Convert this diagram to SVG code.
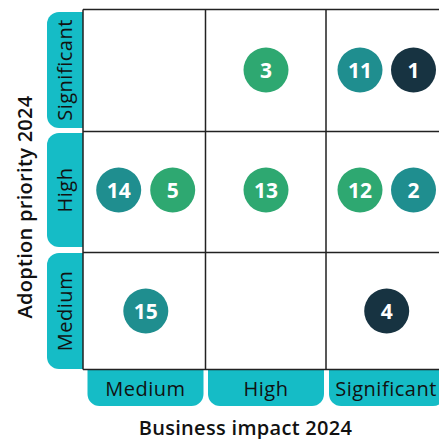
<svg xmlns="http://www.w3.org/2000/svg" width="439" height="439" viewBox="0 0 439 439">
<style>
.tab{fill:#15bcc6}
.tl{font-family:"Open Sans","Noto Sans",sans-serif;font-size:20px;letter-spacing:0.5px;fill:#111;text-anchor:middle}
.ax{font-family:"Open Sans","Noto Sans",sans-serif;font-size:20px;letter-spacing:0.3px;font-weight:600;fill:#111;text-anchor:middle}
.grid{stroke:#222;stroke-width:1.5;fill:none}
.n{font-family:"Open Sans","Noto Sans",sans-serif;font-size:21px;font-weight:700;fill:#fff;text-anchor:middle}
.teal{fill:#1f8e8f}.green{fill:#2ea871}.navy{fill:#173341}
</style>
<rect width="439" height="439" fill="#fff"/>
<g id="row-tabs">
<g id="tab-significant-y"><path class="tab" d="M83,12 V128 H59 A12,12 0 0 1 47,116 V24 A12,12 0 0 1 59,12 Z"/><text class="tl" transform="translate(72,70) rotate(-90)">Significant</text></g>
<g id="tab-high-y"><path class="tab" d="M83,133 V247 H59 A12,12 0 0 1 47,235 V145 A12,12 0 0 1 59,133 Z"/><text class="tl" transform="translate(72,190) rotate(-90)">High</text></g>
<g id="tab-medium-y"><path class="tab" d="M83,253 V369 H59 A12,12 0 0 1 47,357 V265 A12,12 0 0 1 59,253 Z"/><text class="tl" transform="translate(72,311) rotate(-90)">Medium</text></g>
</g>
<g id="col-tabs">
<g id="tab-medium-x"><path class="tab" d="M87.5,370 H203.5 V394 A12,12 0 0 1 191.5,406 H99.5 A12,12 0 0 1 87.5,394 Z"/><text class="tl" x="145.5" y="395.5">Medium</text></g>
<g id="tab-high-x"><path class="tab" d="M208,370 H324 V394 A12,12 0 0 1 312,406 H220 A12,12 0 0 1 208,394 Z"/><text class="tl" x="266" y="395.5">High</text></g>
<g id="tab-significant-x"><path class="tab" d="M329,370 H445 V394 A12,12 0 0 1 433,406 H341 A12,12 0 0 1 329,394 Z"/><text class="tl" x="386" y="395.5">Significant</text></g>
</g>
<g id="grid">
<path class="grid" d="M83,9.5 H439 M83,131.5 H439 M83,252.5 H439 M83,369.5 H439 M83,9.5 V369.5 M205.5,9.5 V369.5 M326,9.5 V369.5"/>
</g>
<g id="axis-titles">
<text class="ax" x="245.5" y="434.5">Business impact 2024</text>
<text class="ax" transform="translate(32,207) rotate(-90)">Adoption priority 2024</text>
</g>
<g id="nodes">
<g id="n3"><circle class="green" cx="266" cy="70" r="22.5"/><text class="n" x="266" y="77.5">3</text></g>
<g id="n11"><circle class="teal" cx="360" cy="70" r="22.5"/><text class="n" x="360" y="77.5">11</text></g>
<g id="n1"><circle class="navy" cx="413.5" cy="70" r="22.5"/><text class="n" x="413.5" y="77.5">1</text></g>
<g id="n14"><circle class="teal" cx="118.7" cy="190" r="22.5"/><text class="n" x="118.7" y="197.5">14</text></g>
<g id="n5"><circle class="green" cx="172.7" cy="190" r="22.5"/><text class="n" x="172.7" y="197.5">5</text></g>
<g id="n13"><circle class="green" cx="266" cy="190" r="22.5"/><text class="n" x="266" y="197.5">13</text></g>
<g id="n12"><circle class="green" cx="360" cy="190" r="22.5"/><text class="n" x="360" y="197.5">12</text></g>
<g id="n2"><circle class="teal" cx="413.5" cy="190" r="22.5"/><text class="n" x="413.5" y="197.5">2</text></g>
<g id="n15"><circle class="teal" cx="145.8" cy="311" r="22.5"/><text class="n" x="145.8" y="318.5">15</text></g>
<g id="n4"><circle class="navy" cx="386.7" cy="311" r="22.5"/><text class="n" x="386.7" y="318.5">4</text></g>
</g>
</svg>
